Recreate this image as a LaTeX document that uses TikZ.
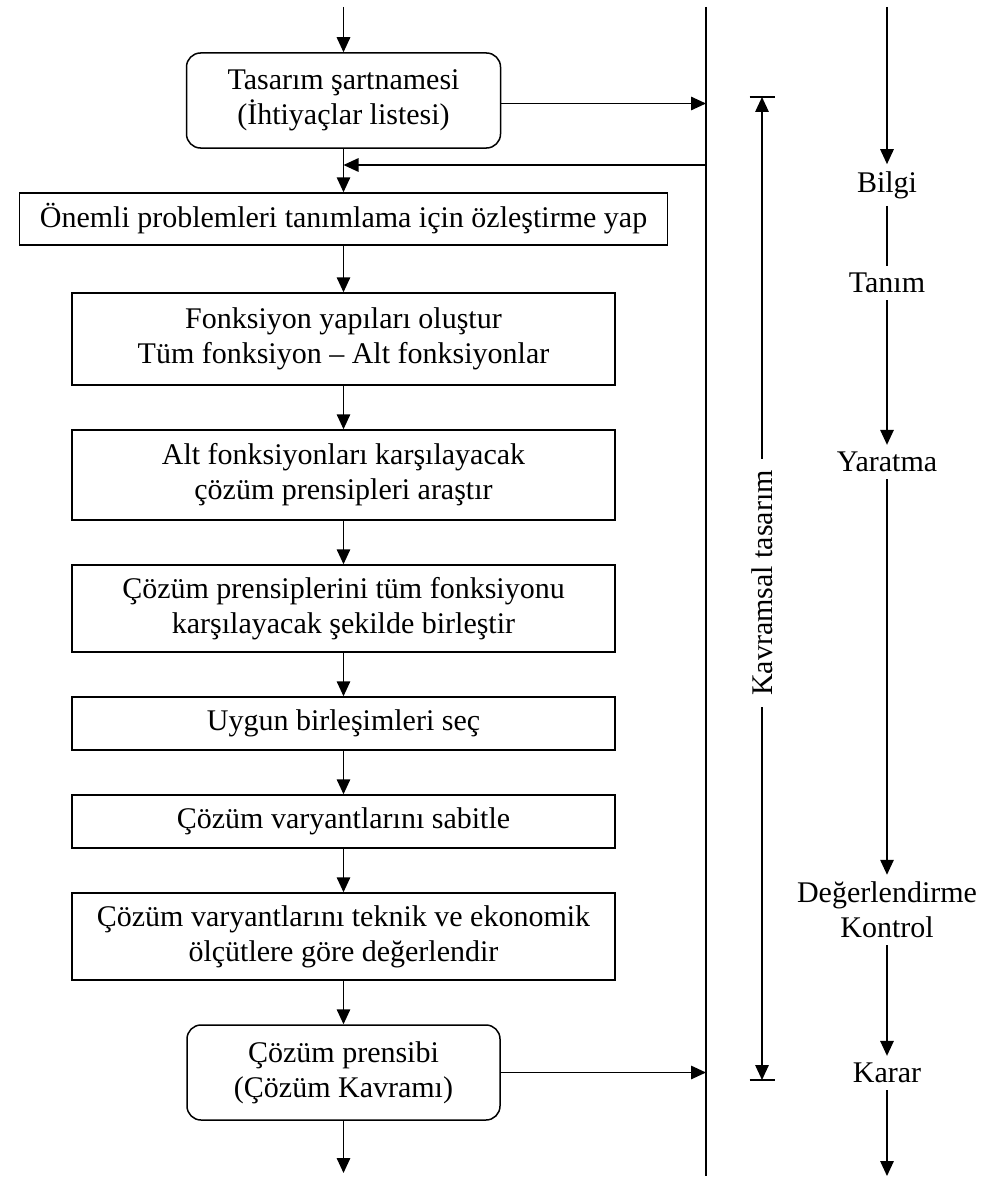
\documentclass[tikz,border=0pt]{standalone}
\usepackage{fontspec}
\setmainfont{Liberation Serif}
\usetikzlibrary{arrows.meta}
\begin{document}
\begin{tikzpicture}[x=1pt,y=-1pt,
  txt/.style={font=\fontsize{30}{35}\selectfont, align=center},
  stepbox/.style={txt, draw, line width=1.5pt, inner sep=0pt, minimum width=#1},
  roundbox/.style={stepbox=#1, rounded corners=14pt},
  lbl/.style={txt, inner xsep=0pt, inner ysep=7pt},
  arr/.style={line width=1.5pt, -{Triangle[length=15pt,width=13.5pt]}},
  plain/.style={line width=1.5pt}]
\useasboundingbox (0,0) rectangle (985,1180);

% process chain
\node[roundbox=314, minimum height=95] (b1) at (343.5,100.5) {Tasarım şartnamesi\\(İhtiyaçlar listesi)};
\node[stepbox=648, minimum height=52] (b2) at (343.5,219) {Önemli problemleri tanımlama için özleştirme yap};
\node[stepbox=543, minimum height=92] (b3) at (343.5,339) {Fonksiyon yapıları oluştur\\Tüm fonksiyon – Alt fonksiyonlar};
\node[stepbox=543, minimum height=90] (b4) at (343.5,475) {Alt fonksiyonları karşılayacak\\çözüm prensipleri araştır};
\node[stepbox=543, minimum height=87] (b5) at (343.5,608.5) {Çözüm prensiplerini tüm fonksiyonu\\karşılayacak şekilde birleştir};
\node[stepbox=543, minimum height=53] (b6) at (343.5,723.5) {Uygun birleşimleri seç};
\node[stepbox=543, minimum height=53] (b7) at (343.5,821.5) {Çözüm varyantlarını sabitle};
\node[stepbox=543, minimum height=87] (b8) at (343.5,936.5) {Çözüm varyantlarını teknik ve ekonomik\\ölçütlere göre değerlendir};
\node[roundbox=313, minimum height=95] (b9) at (343.5,1072.5) {Çözüm prensibi\\(Çözüm Kavramı)};

\coordinate (in) at (343.5,7);
\coordinate (out) at (343.5,1173);
\draw[arr] (in) -- (b1.north);
\draw[arr] (b1) -- (b2);
\draw[arr] (b2) -- (b3);
\draw[arr] (b3) -- (b4);
\draw[arr] (b4) -- (b5);
\draw[arr] (b5) -- (b6);
\draw[arr] (b6) -- (b7);
\draw[arr] (b7) -- (b8);
\draw[arr] (b8) -- (b9);
\draw[arr] (b9.south) -- (out);

% vertical information line with its branches
\coordinate (vtop) at (706,7);
\coordinate (vbot) at (706,1176);
\coordinate (fb) at (706,165);
\draw[plain] (vtop) -- (vbot);
\draw[arr] ([yshift=-3]b1.east) -- ([yshift=-3]b1.east -| vtop);
\draw[arr] (fb) -- (fb -| b1.south);
\draw[arr] (b9.east) -- (b9.east -| vtop);

% extent of the conceptual design phase
\coordinate (dtop) at (762,97);
\coordinate (dbot) at (762,1080);
\draw[plain] ([xshift=-12.5]dtop) -- ([xshift=12.5]dtop);
\draw[plain] ([xshift=-12.5]dbot) -- ([xshift=12.5]dbot);
\node[txt, rotate=90, inner xsep=11pt, inner ysep=4pt] (dlab) at (762,583) {Kavramsal tasarım};
\draw[arr] (dlab.east) -- (dtop);
\draw[arr] (dlab.west) -- (dbot);

% phases
\coordinate (rtop) at (887,7);
\coordinate (rbot) at (887,1176);
\node[lbl] (p1) at (887,185) {Bilgi};
\node[lbl] (p2) at (887,283) {Tanım};
\node[lbl] (p3) at (887,462) {Yaratma};
\node[lbl] (p4) at (887,910) {Değerlendirme\\Kontrol};
\node[lbl] (p5) at (887,1073) {Karar};
\draw[arr] (rtop) -- (p1);
\draw[plain] (p1) -- (p2);
\draw[arr] (p2) -- (p3);
\draw[arr] (p3) -- (p4);
\draw[arr] (p4) -- (p5);
\draw[arr] (p5) -- (rbot);
\end{tikzpicture}
\end{document}
